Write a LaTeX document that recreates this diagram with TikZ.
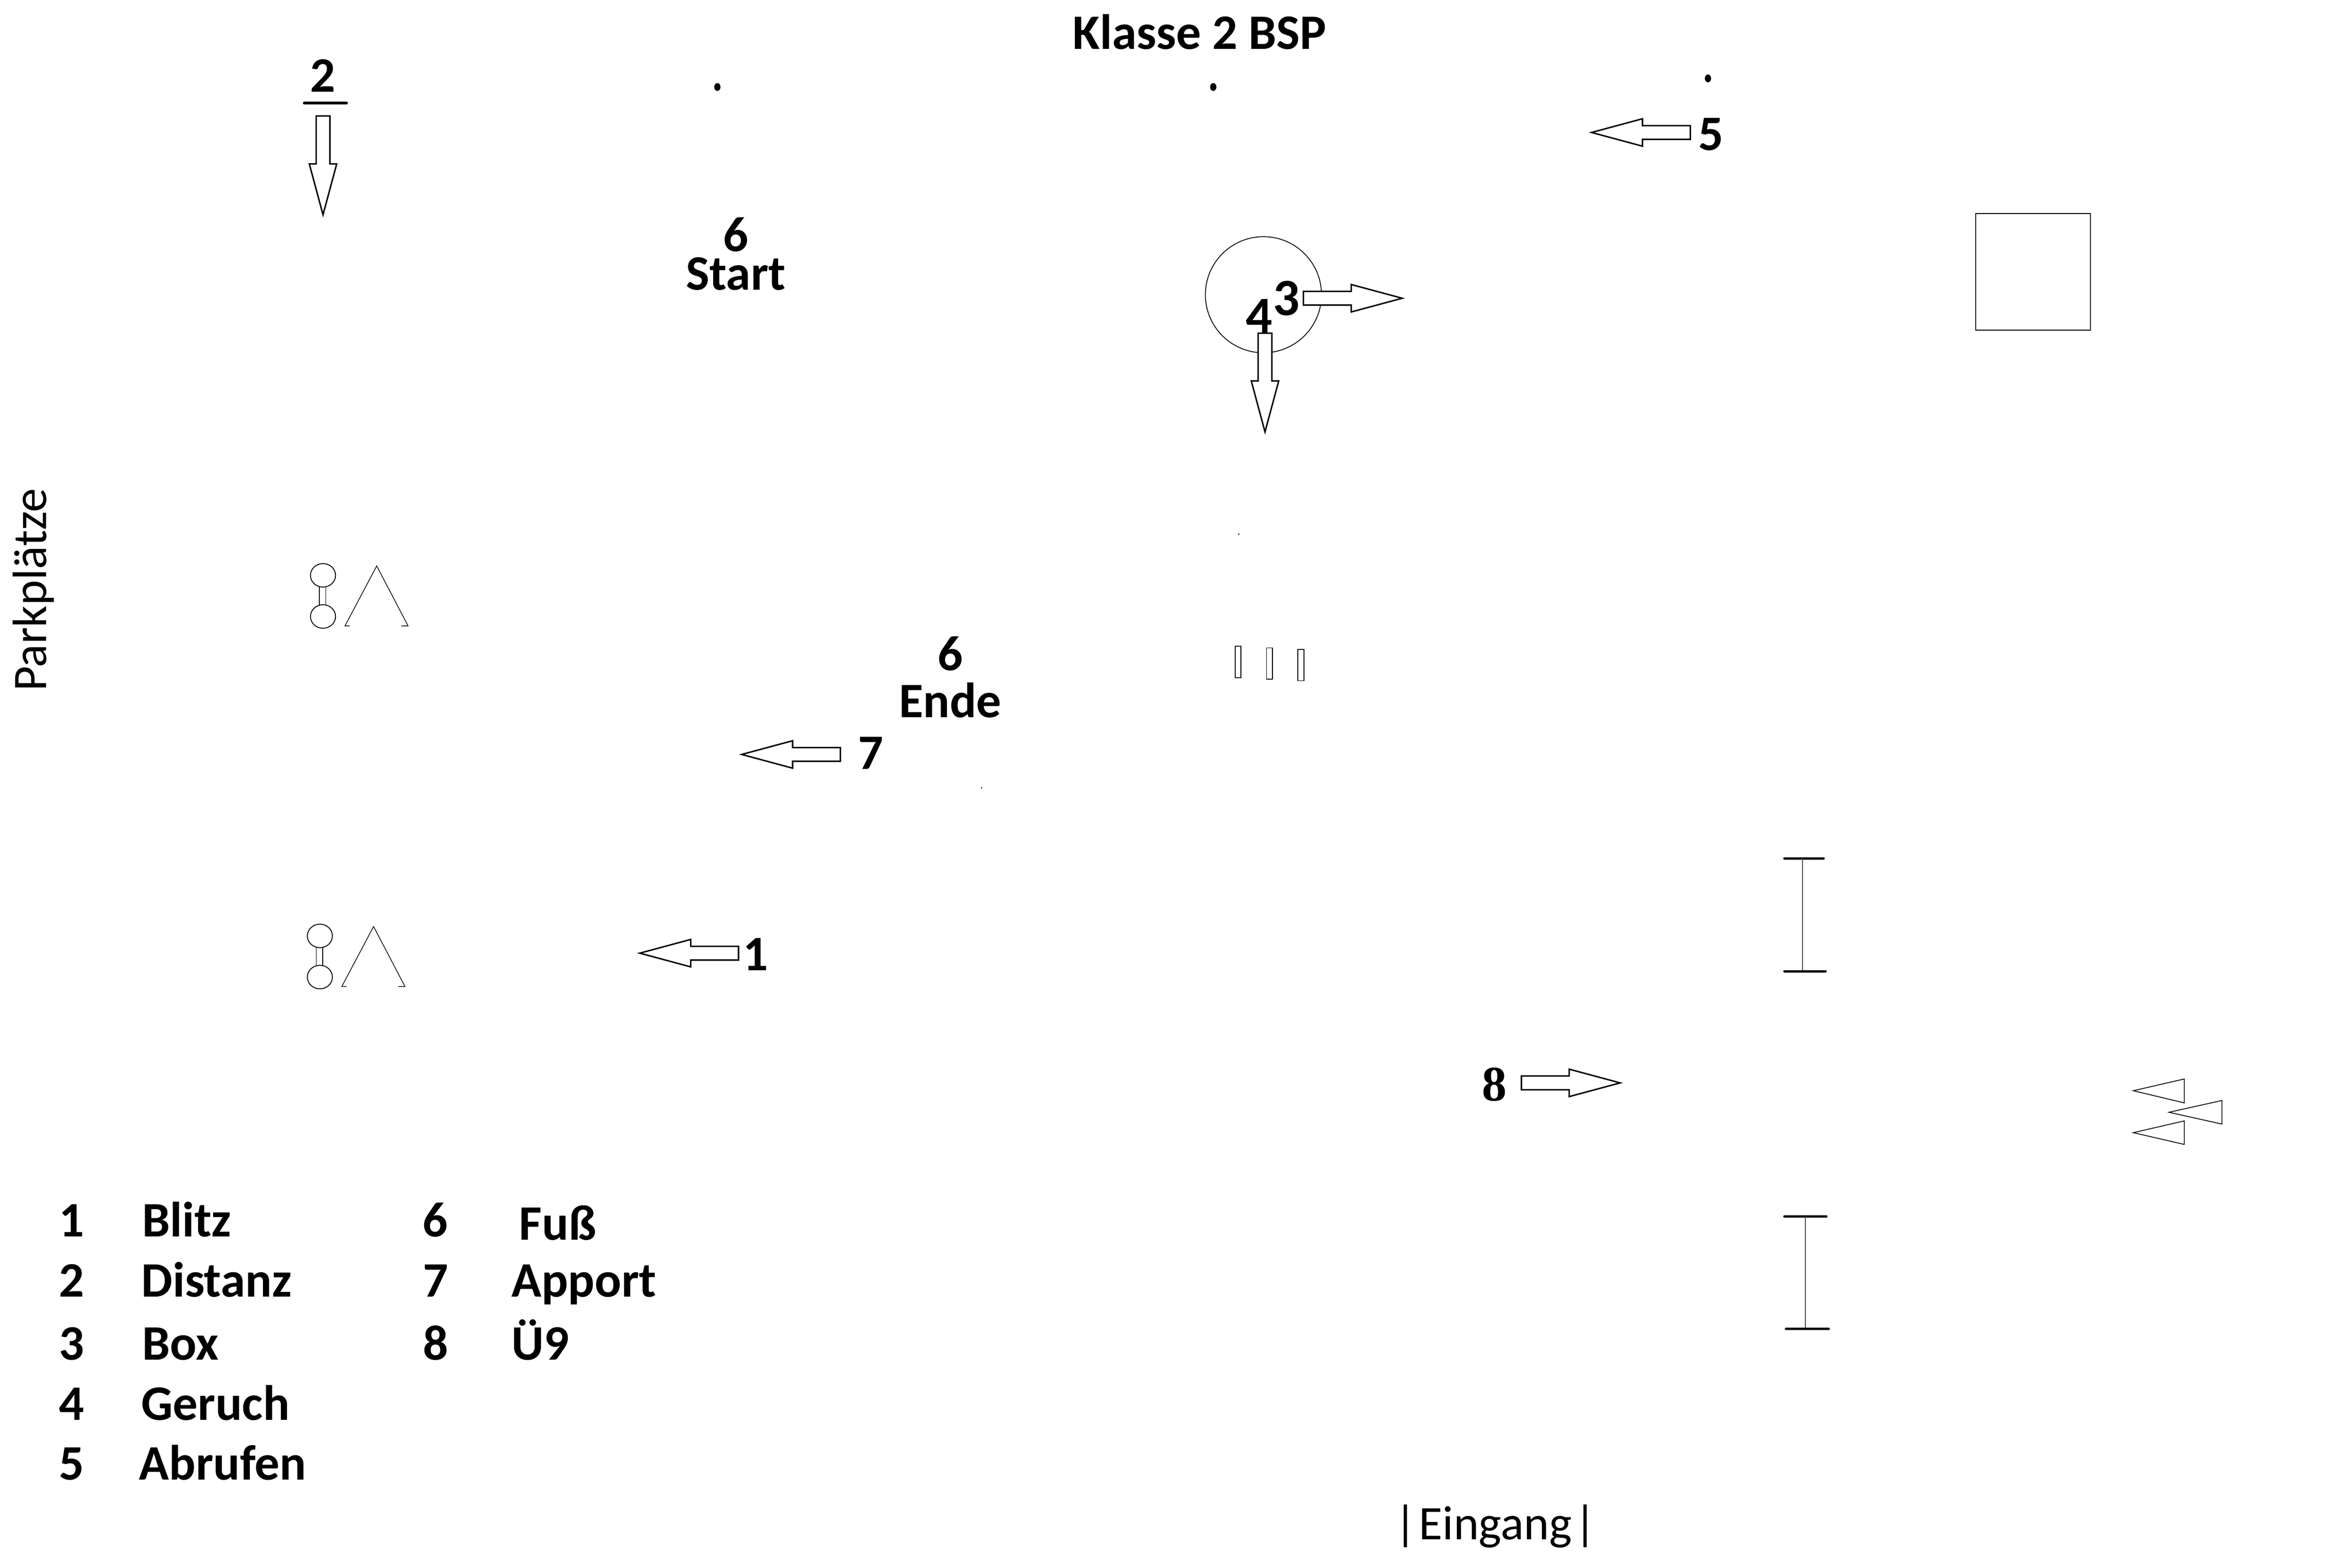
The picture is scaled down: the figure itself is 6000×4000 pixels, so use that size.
\documentclass[tikz,border=0pt]{standalone}
\usepackage{fontspec}
\setmainfont{Carlito}
\newfontfamily\serifbold{Liberation Serif}
\tikzset{
  arrowline/.style={draw=black, line width=1.05pt, fill=white, line join=miter},
  blockarrow/.pic={\path[arrowline] (-252,-17.5) -- (-130,-17.5) -- (-130,-35) -- (0,0) -- (-130,35) -- (-130,17.5) -- (-252,17.5) -- cycle;},
  lbl/.style={font=\fontsize{36}{43}\selectfont\bfseries, inner sep=0pt, anchor=base},
  biglbl/.style={font=\fontsize{38}{45}\selectfont\bfseries, inner sep=0pt, anchor=base},
  legnum/.style={font=\fontsize{36}{43}\selectfont\bfseries, inner sep=0pt, anchor=base},
  legword/.style={font=\fontsize{36}{43}\selectfont\bfseries, inner sep=0pt, anchor=base west},
  plain/.style={font=\fontsize{34}{41}\selectfont, inner sep=0pt, anchor=base},
  barline/.style={draw=black, line width=0.06cm, line cap=round},
  stemline/.style={draw=black!70, line width=0.025cm},
}
\begin{document}
\begin{tikzpicture}[x=0.01cm,y=-0.01cm]
\fill[white] (0,0) rectangle (6000,4000);
\useasboundingbox (0,0) rectangle (6000,4000);

% title
\node[lbl] (title) at (3060,126) {Klasse 2 BSP};

% 2 Distanz
\node[lbl] (n2) at (824,235) {2};
\draw[line width=0.07cm, line cap=round] (776,263) -- (884,263);
\pic[rotate=-90] at (824,548) {blockarrow};

% dots
\fill (1830,222) ellipse [x radius=0.08cm, y radius=0.1cm];
\fill (3095,222) ellipse [x radius=0.08cm, y radius=0.1cm];
\fill (4357,200) ellipse [x radius=0.08cm, y radius=0.1cm];

% 5 Abrufen
\pic[rotate=180] at (4060,338) {blockarrow};
\node[lbl] (n5) at (4365,384) {5};

% 6 Start
\node[lbl, align=center, font=\fontsize{36}{27.9}\selectfont\bfseries] (start) at (1877,740) {6\\Start};

% circle with 3 and 4
\draw[line width=0.6pt] (3223,752) circle[radius=1.48cm];
\pic at (3577,761) {blockarrow};
\pic[rotate=-90] at (3227,1102) {blockarrow};
\node[biglbl] (n3) at (3282,804) {3};
\node[biglbl] (n4) at (3212,850) {4};

% square
\draw[line width=0.027cm] (5040,545) rectangle (5333,842);

% Parkplaetze
\node[plain, rotate=90, font=\fontsize{35}{42}\selectfont] (park) at (118,1505) {Parkplätze};

% dumbbell + cone groups
\foreach \dx/\dy in {0/0, -8/920} {
  \begin{scope}[shift={(\dx,\dy)}]
    \draw[line width=0.65pt] (824,1468) ellipse [x radius=0.32cm, y radius=0.30cm];
    \draw[line width=0.65pt] (824,1573) ellipse [x radius=0.32cm, y radius=0.30cm];
    \draw[line width=0.65pt] (815,1497) -- (815,1544);
    \draw[line width=0.65pt] (831,1497) -- (831,1544);
    \draw[line width=0.5pt, line join=miter] (892,1597) -- (880,1597) -- (961,1444) -- (1041,1597) -- (1024,1597);
  \end{scope}
}

% specks
\fill (3160,1363) circle[radius=0.02cm];
\fill (2504,2010) circle[radius=0.02cm];

% three thin rectangles
\draw[line width=0.022cm] (3151,1649) rectangle (3166,1729);
\draw[line width=0.022cm] (3231,1653) rectangle (3246,1733);
\draw[line width=0.022cm] (3311,1657) rectangle (3326,1737);

% 6 Ende
\node[lbl, align=center, font=\fontsize{36}{34.1}\selectfont\bfseries] (ende) at (2424,1830) {6\\Ende};

% 7 Apport
\pic[rotate=180] at (1892,1925) {blockarrow};
\node[lbl] (n7) at (2222,1963) {7};

% 1 Blitz
\pic[rotate=180] at (1632,2432) {blockarrow};
\node[lbl] (n1) at (1928,2476) {1};

% I-beams
\draw[barline] (4552,2190) -- (4652,2190);
\draw[stemline] (4598,2190) -- (4598,2478);
\draw[barline] (4552,2478) -- (4657,2478);
\draw[barline] (4552,3104) -- (4659,3104);
\draw[stemline] (4606,3104) -- (4606,3390);
\draw[barline] (4556,3390) -- (4665,3390);

% 8
\node[lbl, font=\fontsize{36}{43}\selectfont\serifbold\bfseries] (n8) at (3812,2808) {8};
\pic at (4133,2763) {blockarrow};

% triangles
\draw[line width=0.6pt, line join=miter] (5442,2783) -- (5572,2753) -- (5572,2814) -- cycle;
\draw[line width=0.6pt, line join=miter] (5533,2838) -- (5668,2808) -- (5668,2868) -- cycle;
\draw[line width=0.6pt, line join=miter] (5442,2890) -- (5572,2860) -- (5572,2920) -- cycle;

% legend
\node[legnum] (l1) at (183,3155) {1};
\node[legnum] (l2) at (183,3309) {2};
\node[legnum] (l3) at (183,3470) {3};
\node[legnum] (l4) at (183,3623) {4};
\node[legnum] (l5) at (183,3776) {5};
\node[legword] (w1) at (362,3155) {Blitz};
\node[legword] (w2) at (360,3309) {Distanz};
\node[legword] (w3) at (362,3470) {Box};
\node[legword] (w4) at (360,3623) {Geruch};
\node[legword] (w5) at (354,3776) {Abrufen};
\node[legnum] (l6) at (1110,3155) {6};
\node[legnum] (l7) at (1112,3309) {7};
\node[legnum] (l8) at (1112,3470) {8};
\node[legword] (w6) at (1324,3164) {Fuß};
\node[legword] (w7) at (1304,3309) {Apport};
\node[legword] (w8) at (1304,3470) {Ü9};

% Eingang
\node[plain, font=\fontsize{35}{42}\selectfont] (eingang) at (3815,3928) {|\kern0.05em Eingang\kern0.05em|};
\end{tikzpicture}
\end{document}
